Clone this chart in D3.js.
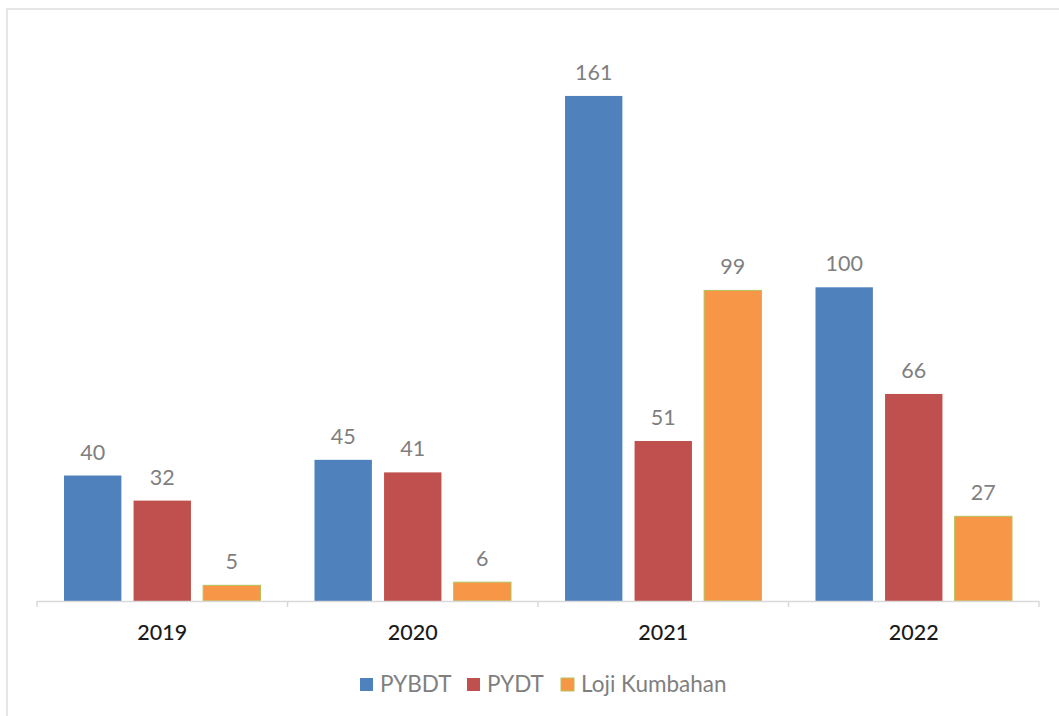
<!DOCTYPE html>
<html><head><meta charset="utf-8">
<script src="https://cdn.jsdelivr.net/npm/d3@7"></script>
<style>body{margin:0;background:#fff;}svg{display:block;}</style>
</head><body>
<script>
const categories = ["2019","2020","2021","2022"];
const seriesNames = ["PYBDT","PYDT","Loji Kumbahan"];
const pybdt = [40,45,161,100];
const pydt = [32,41,51,66];
const loji = [5,6,99,27];
const seriesValues = [pybdt, pydt, loji];
const colors = ["#4f81bd","#c0504d","#f79646"];
const strokes = ["none","none","#b5c25a"];
const FONT = "Lato, 'Open Sans', sans-serif";

const W=1059,H=716;
const svg=d3.select("body").append("svg").attr("width",W).attr("height",H);
// frame
svg.append("rect").attr("x",7).attr("y",9).attr("width",W).attr("height",H)
  .attr("fill","none").attr("stroke","#e6e6e6").attr("stroke-width",2);

const x0=d3.scaleBand().domain(categories).range([37,1039]).paddingInner(0).paddingOuter(0);
const x1=d3.scaleBand().domain(seriesNames).range([27,x0.bandwidth()-27]).paddingInner(0.175).paddingOuter(0);
const y=d3.scaleLinear().domain([0,180]).range([601,601-180*3.137]);

const g=svg.append("g");
categories.forEach((c,i)=>{
  seriesNames.forEach((s,j)=>{
    const v=seriesValues[j][i];
    const bx=x0(c)+x1(s);
    g.append("rect").attr("x",bx).attr("y",y(v)).attr("width",x1.bandwidth()).attr("height",y(0)-y(v))
      .attr("fill",colors[j]).attr("stroke",strokes[j]).attr("stroke-width",strokes[j]==="none"?0:1);
    g.append("text").attr("x",bx+x1.bandwidth()/2).attr("y",y(v)-16)
      .attr("text-anchor","middle").attr("font-family",FONT).attr("font-size",21.5)
      .attr("fill","#7f7f7f").text(v);
  });
});

// axis
const axisG=svg.append("g").attr("transform","translate(0,601)");
axisG.append("line").attr("x1",37).attr("x2",1039).attr("y1",0.5).attr("y2",0.5).attr("stroke","#d9d9d9").attr("stroke-width",1.5);
const bounds=categories.map(c=>x0(c)).concat([x0.range()[1]]);
axisG.selectAll("line.tick").data(bounds).enter().append("line")
  .attr("x1",d=>d).attr("x2",d=>d).attr("y1",0).attr("y2",6).attr("stroke","#d9d9d9").attr("stroke-width",1.5);
axisG.selectAll("text").data(categories).enter().append("text")
  .attr("x",d=>x0(d)+x0.bandwidth()/2).attr("y",39).attr("text-anchor","middle")
  .attr("font-family",FONT).attr("font-size",21.5).attr("font-weight",500).attr("fill","#1a1a1a").text(d=>d);

// legend
const legX=[360,467,561];
const leg=svg.append("g");
seriesNames.forEach((s,j)=>{
  leg.append("rect").attr("x",legX[j]).attr("y",678).attr("width",13).attr("height",13).attr("fill",colors[j])
    .attr("stroke",strokes[j]).attr("stroke-width",strokes[j]==="none"?0:1);
  leg.append("text").attr("x",legX[j]+20).attr("y",692).attr("font-family",FONT)
    .attr("font-size",22.5).attr("fill","#7f7f7f").text(s);
});
</script>
</body></html>
